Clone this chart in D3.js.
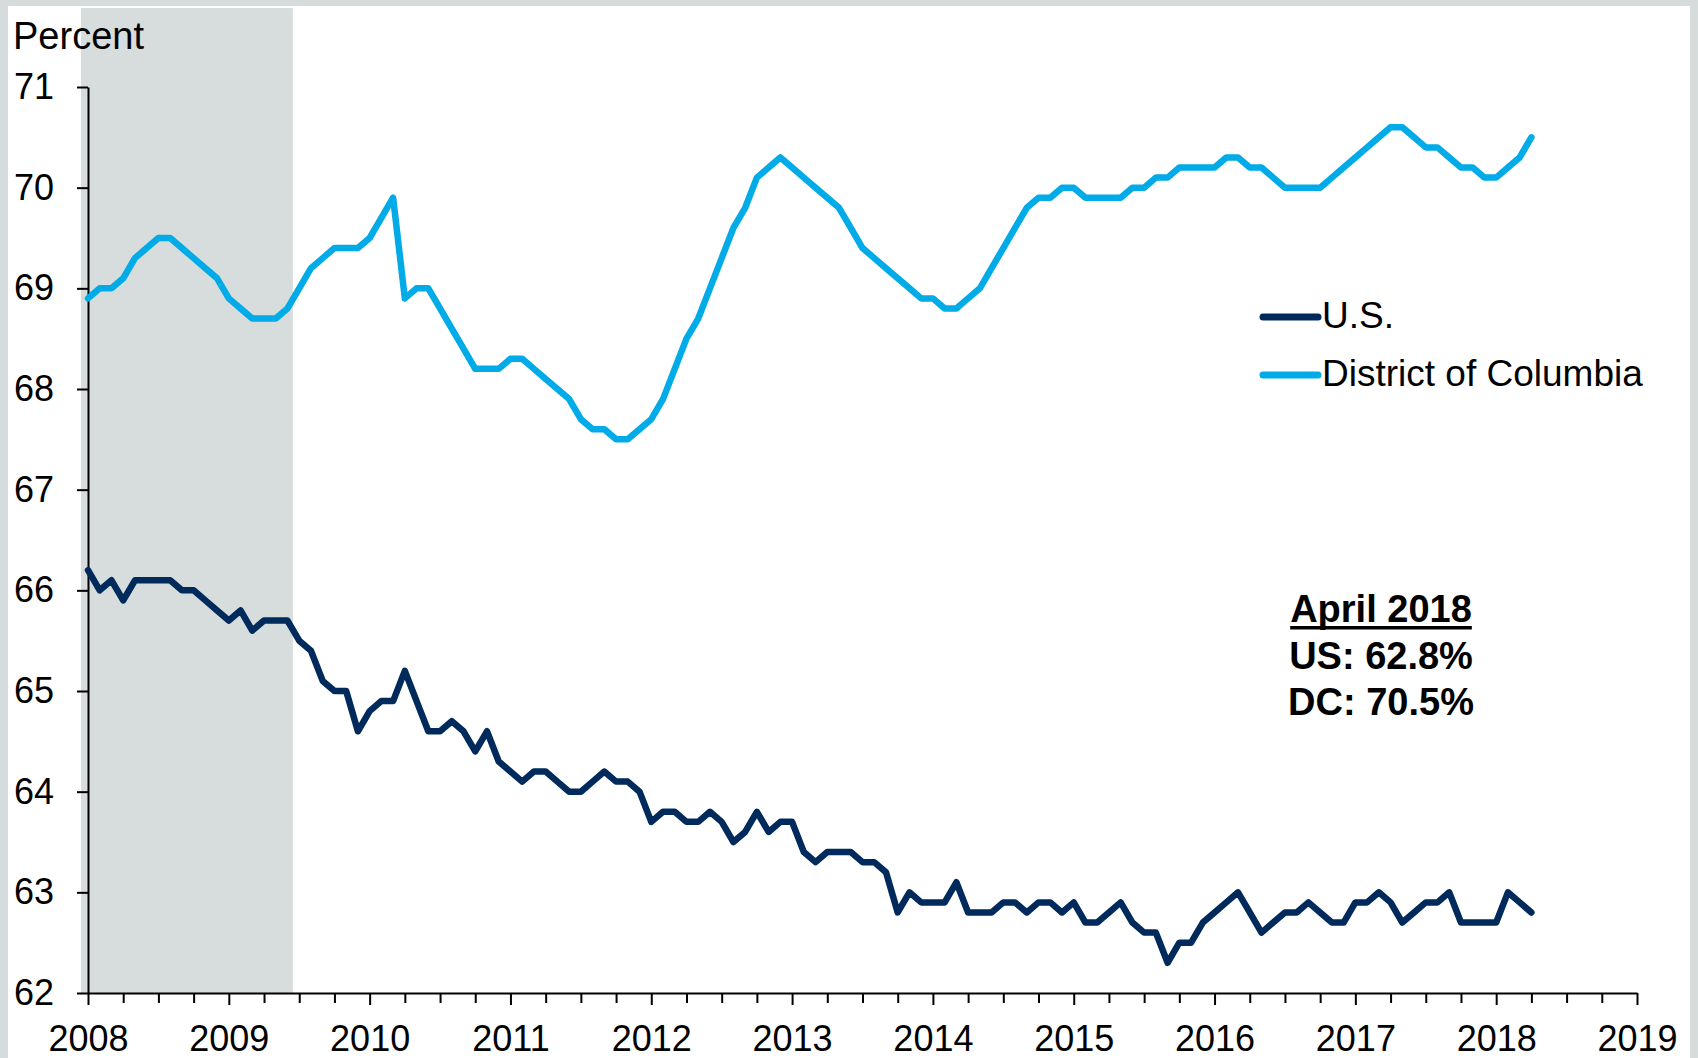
<!DOCTYPE html>
<html>
<head>
<meta charset="utf-8">
<script src="https://cdnjs.cloudflare.com/ajax/libs/d3/7.8.5/d3.min.js"></script>
<style>
    body { margin: 0; background: #ffffff; }
    svg text { font-family: "Liberation Sans", Arial, sans-serif; fill: #000; }
</style>
</head>
<body>
<div id="chart"></div>
<script>
// monthly labor force participation rate, Jan 2008 - Apr 2018
var startYear = 2008;

var usRate = [
    66.2, 66.0, 66.1, 65.9, 66.1, 66.1, 66.1, 66.1, 66.0, 66.0, 65.9, 65.8,
    65.7, 65.8, 65.6, 65.7, 65.7, 65.7, 65.5, 65.4, 65.1, 65.0, 65.0, 64.6,
    64.8, 64.9, 64.9, 65.2, 64.9, 64.6, 64.6, 64.7, 64.6, 64.4, 64.6, 64.3,
    64.2, 64.1, 64.2, 64.2, 64.1, 64.0, 64.0, 64.1, 64.2, 64.1, 64.1, 64.0,
    63.7, 63.8, 63.8, 63.7, 63.7, 63.8, 63.7, 63.5, 63.6, 63.8, 63.6, 63.7,
    63.7, 63.4, 63.3, 63.4, 63.4, 63.4, 63.3, 63.3, 63.2, 62.8, 63.0, 62.9,
    62.9, 62.9, 63.1, 62.8, 62.8, 62.8, 62.9, 62.9, 62.8, 62.9, 62.9, 62.8,
    62.9, 62.7, 62.7, 62.8, 62.9, 62.7, 62.6, 62.6, 62.3, 62.5, 62.5, 62.7,
    62.8, 62.9, 63.0, 62.8, 62.6, 62.7, 62.8, 62.8, 62.9, 62.8, 62.7, 62.7,
    62.9, 62.9, 63.0, 62.9, 62.7, 62.8, 62.9, 62.9, 63.0, 62.7, 62.7, 62.7,
    62.7, 63.0, 62.9, 62.8
];

var dcRate = [
    68.9, 69.0, 69.0, 69.1, 69.3, 69.4, 69.5, 69.5, 69.4, 69.3, 69.2, 69.1,
    68.9, 68.8, 68.7, 68.7, 68.7, 68.8, 69.0, 69.2, 69.3, 69.4, 69.4, 69.4,
    69.5, 69.7, 69.9, 68.9, 69.0, 69.0, 68.8, 68.6, 68.4, 68.2, 68.2, 68.2,
    68.3, 68.3, 68.2, 68.1, 68.0, 67.9, 67.7, 67.6, 67.6, 67.5, 67.5, 67.6,
    67.7, 67.9, 68.2, 68.5, 68.7, 69.0, 69.3, 69.6, 69.8, 70.1, 70.2, 70.3,
    70.2, 70.1, 70.0, 69.9, 69.8, 69.6, 69.4, 69.3, 69.2, 69.1, 69.0, 68.9,
    68.9, 68.8, 68.8, 68.9, 69.0, 69.2, 69.4, 69.6, 69.8, 69.9, 69.9, 70.0,
    70.0, 69.9, 69.9, 69.9, 69.9, 70.0, 70.0, 70.1, 70.1, 70.2, 70.2, 70.2,
    70.2, 70.3, 70.3, 70.2, 70.2, 70.1, 70.0, 70.0, 70.0, 70.0, 70.1, 70.2,
    70.3, 70.4, 70.5, 70.6, 70.6, 70.5, 70.4, 70.4, 70.3, 70.2, 70.2, 70.1,
    70.1, 70.2, 70.3, 70.5
];

var seriesNames = ["U.S.", "District of Columbia"];
var seriesColors = ["#002a5c", "#00abe8"];
var yTicks = [62, 63, 64, 65, 66, 67, 68, 69, 70, 71];
var xTicks = d3.range(2008, 2019.001, 0.25);   // quarterly ticks, years labelled
var recession = [2007.95, 2009.455];             // Dec 2007 - Jun 2009
var noteLines = ["April 2018", "US: 62.8%", "DC: 70.5%"];

var width = 1698, height = 1058;
var margin = {top: 87, right: 61, bottom: 65, left: 88};

var svg = d3.select("#chart").append("svg")
    .attr("width", width)
    .attr("height", height);

// grey frame round the picture
svg.append("rect").attr("width", width).attr("height", height).attr("fill", "#d6dcdc");
svg.append("rect")
    .attr("x", 8).attr("y", 6)
    .attr("width", width - 16).attr("height", height - 6)
    .attr("fill", "#ffffff");

var xScale = d3.scaleLinear()
    .domain([2008, 2019])
    .range([margin.left, width - margin.right]);

var yScale = d3.scaleLinear()
    .domain([62, 71])
    .range([height - margin.bottom, margin.top]);

// recession shading
svg.append("rect")
    .attr("x", xScale(recession[0]))
    .attr("y", 8)
    .attr("width", xScale(recession[1]) - xScale(recession[0]))
    .attr("height", yScale(62) - 8)
    .attr("fill", "#d7dddd");

// x axis
var xAxis = svg.append("g")
    .attr("transform", "translate(0," + yScale(62) + ")")
    .call(d3.axisBottom(xScale)
        .tickValues(xTicks)
        .tickSize(10)
        .tickSizeOuter(0)
        .tickFormat(function(d) { return d % 1 === 0 ? d : ""; }));
xAxis.select(".domain").attr("stroke", "#000").attr("stroke-width", 2);
xAxis.selectAll(".tick line").attr("stroke", "#000").attr("stroke-width", 2)
    .attr("y2", function(d) { return d % 1 === 0 ? 12 : 10; });
xAxis.selectAll(".tick text")
    .attr("y", 58).attr("dy", null)
    .style("font-size", "36px");

// y axis
var yAxis = svg.append("g")
    .attr("transform", "translate(" + margin.left + ",0)")
    .call(d3.axisLeft(yScale)
        .tickValues(yTicks)
        .tickSize(11)
        .tickSizeOuter(0)
        .tickPadding(23));
yAxis.select(".domain").attr("stroke", "#000").attr("stroke-width", 2);
yAxis.selectAll(".tick line").attr("stroke", "#000").attr("stroke-width", 2);
yAxis.selectAll(".tick text").style("font-size", "36px");

svg.append("text")
    .attr("x", 13).attr("y", 49)
    .style("font-size", "38px")
    .text("Percent");

// lines
var line = d3.line()
    .x(function(d, i) { return xScale(startYear + i / 12); })
    .y(function(d) { return yScale(d); });

[usRate, dcRate].forEach(function(series, k) {
    svg.append("path")
        .datum(series)
        .attr("fill", "none")
        .attr("stroke", seriesColors[k])
        .attr("stroke-width", 6.5)
        .attr("stroke-linejoin", "round")
        .attr("stroke-linecap", "round")
        .attr("d", line);
});

// legend
var legend = svg.append("g").attr("transform", "translate(1263,317)");
seriesNames.forEach(function(name, k) {
    var g = legend.append("g").attr("transform", "translate(0," + k * 58 + ")");
    g.append("line")
        .attr("x1", 0).attr("x2", 55)
        .attr("stroke", seriesColors[k])
        .attr("stroke-width", 7)
        .attr("stroke-linecap", "round");
    g.append("text")
        .attr("x", 59).attr("y", 11)
        .style("font-size", "37px")
        .text(name);
});

// April 2018 note
var note = svg.append("g").attr("transform", "translate(1381,622)");
noteLines.forEach(function(t, k) {
    var txt = note.append("text")
        .attr("y", k * 46.5)
        .attr("text-anchor", "middle")
        .style("font-size", "38px")
        .style("font-weight", "bold")
        .text(t);
    if (k === 0) {
        var w = txt.node().getComputedTextLength();
        note.append("rect")
            .attr("x", -w / 2).attr("y", 4)
            .attr("width", w).attr("height", 3.5)
            .attr("fill", "#000");
    }
});
</script>
</body>
</html>
